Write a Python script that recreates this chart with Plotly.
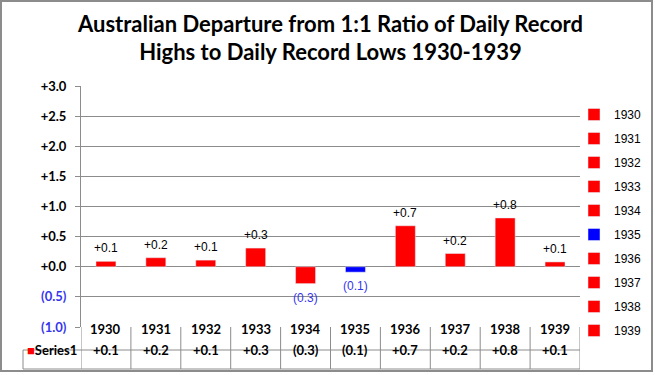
import plotly.graph_objects as go

years = ["1930", "1931", "1932", "1933", "1934", "1935", "1936", "1937", "1938", "1939"]
values = [0.09, 0.15, 0.11, 0.31, -0.28, -0.09, 0.68, 0.22, 0.81, 0.08]
labels = ["+0.1", "+0.2", "+0.1", "+0.3", "(0.3)", "(0.1)", "+0.7", "+0.2", "+0.8", "+0.1"]
bar_colors = ["#FF0000", "#FF0000", "#FF0000", "#FF0000", "#FF0000", "#0000FF",
              "#FF0000", "#FF0000", "#FF0000", "#FF0000"]
series_name = "Series1"
tick_vals = [3.0, 2.5, 2.0, 1.5, 1.0, 0.5, 0.0, -0.5, -1.0]
tick_text = ["+3.0", "+2.5", "+2.0", "+1.5", "+1.0", "+0.5", "+0.0", "(0.5)", "(1.0)"]

NEG_BLUE = "#3535EE"
GRID = "#8C8C8C"

W, H = 655, 375
L, R, T, B = 81, 75, 86, 48
PW, PH = W - L - R, H - T - B

fig = go.Figure()
for i, y in enumerate(years):
    fig.add_trace(go.Bar(
        x=[y], y=[values[i]], name=y, marker_color=bar_colors[i],
        width=0.4, legendgroup=y, showlegend=True, hoverinfo="x+y",
    ))

annotations = []
for i, y in enumerate(years):
    neg = values[i] < 0
    annotations.append(dict(
        x=i, y=values[i], xref="x", yref="y", text=labels[i], showarrow=False,
        yshift=-14 if neg else 13,
        font=dict(family="Liberation Sans", size=12, color=NEG_BLUE if neg else "black"),
    ))

# data table
row1_top, row1_bot = 0.0, -23 / PH
row2_bot = -42 / PH
left_cell_px = (23 - L) / PW  # left edge of the legend-key cell, in paper units
shapes = []
line = dict(color=GRID, width=1)
for k in range(len(years) + 1):
    shapes.append(dict(type="line", xref="x", yref="paper", x0=k - 0.5, x1=k - 0.5,
                       y0=row1_top, y1=row2_bot, line=line))
shapes.append(dict(type="line", xref="paper", yref="paper", x0=left_cell_px, x1=left_cell_px,
                   y0=row1_bot, y1=row2_bot, line=line))
shapes.append(dict(type="line", xref="paper", yref="paper", x0=left_cell_px, x1=1,
                   y0=row1_bot, y1=row1_bot, line=line))
shapes.append(dict(type="line", xref="paper", yref="paper", x0=left_cell_px, x1=1,
                   y0=row2_bot, y1=row2_bot, line=line))
table_font = dict(family="Lato", size=13, color="black", weight="bold")
for i, y in enumerate(years):
    annotations.append(dict(x=i, y=(row1_top + row1_bot) / 2, xref="x", yref="paper",
                            text=y, showarrow=False, font=table_font))
    annotations.append(dict(x=i, y=(row1_bot + row2_bot) / 2, xref="x", yref="paper",
                            text=labels[i], showarrow=False, font=table_font))
annotations.append(dict(x=left_cell_px, y=(row1_bot + row2_bot) / 2, xref="paper", yref="paper",
                        xanchor="left", xshift=2,
                        text='<span style="color:#FF0000">■</span>' + series_name,
                        showarrow=False, font=table_font))

# outer chart frame
shapes.append(dict(type="rect", xref="paper", yref="paper",
                   x0=(1 - L) / PW, x1=(652 - L) / PW,
                   y0=(PH + T - 1) / PH, y1=(PH + T - 371) / PH,
                   line=dict(color="#8C8C8C", width=2)))

tick_text_html = [t if not t.startswith("(") else f'<span style="color:{NEG_BLUE}">{t}</span>'
                  for t in tick_text]

fig.update_layout(
    width=W, height=H,
    margin=dict(l=L, r=R, t=T, b=B, autoexpand=False),
    paper_bgcolor="white", plot_bgcolor="white",
    barmode="overlay",
    title=dict(
        text="Australian Departure from 1:1 Ratio of Daily Record<br>Highs to Daily Record Lows 1930-1939",
        x=0.5, xref="paper", xanchor="center", y=0.915, yanchor="top",
        font=dict(family="Lato", size=22, color="black", weight="bold"),
    ),
    xaxis=dict(type="category", categoryorder="array", categoryarray=years,
               range=[-0.5, len(years) - 0.5], showticklabels=False, showgrid=False,
               zeroline=False, showline=False, ticks=""),
    yaxis=dict(range=[-1.0, 3.0], tickvals=tick_vals, ticktext=tick_text_html,
               showgrid=True, gridcolor=GRID, gridwidth=1, zeroline=True,
               zerolinecolor=GRID, zerolinewidth=1, showline=True, linecolor=GRID,
               ticks="outside", ticklen=5, tickcolor=GRID, ticklabelstandoff=6,
               tickfont=dict(family="Lato", size=13, color="black", weight="bold")),
    legend=dict(x=(574 - L) / PW, xanchor="left", y=(PH + T - 100) / PH, yanchor="top",
                font=dict(family="Liberation Sans", size=12, color="black"),
                tracegroupgap=5, itemwidth=30, bgcolor="rgba(0,0,0,0)", maxheight=320),
    shapes=shapes,
    annotations=annotations,
    showlegend=True,
)

fig.write_html("out.html", config={"displayModeBar": False},
               post_script="document.body.style.margin='0';document.body.style.overflow='hidden';")
